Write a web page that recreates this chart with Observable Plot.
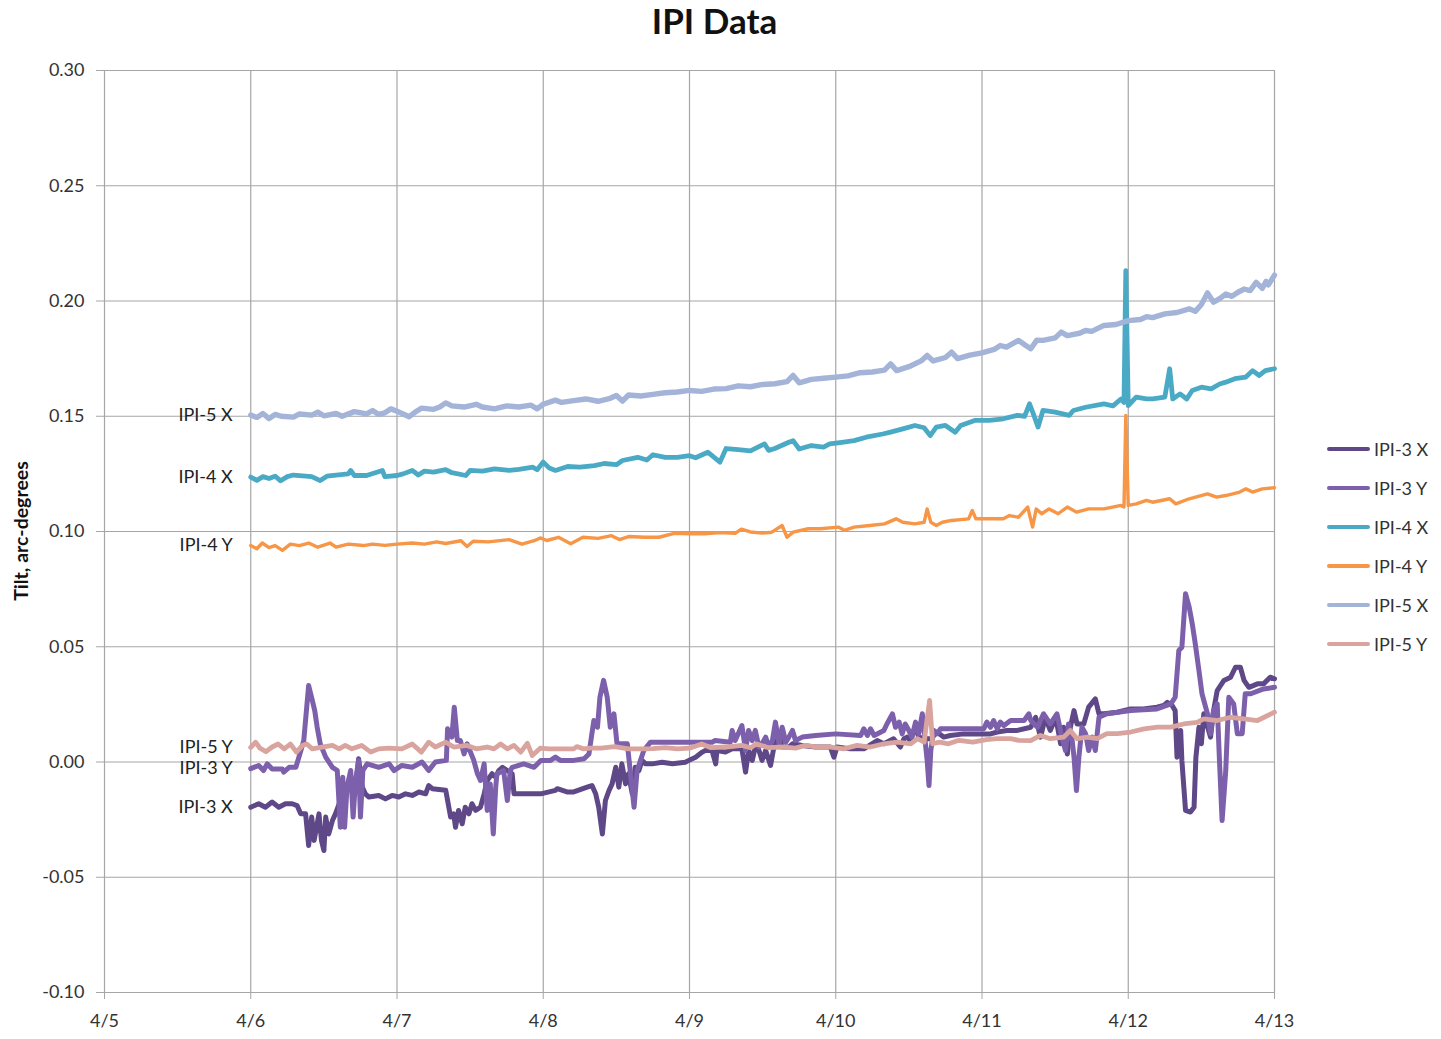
<!DOCTYPE html>
<html>
<head>
<meta charset="utf-8">
<script src="https://cdn.jsdelivr.net/npm/d3@7"></script>
<script src="https://cdn.jsdelivr.net/npm/@observablehq/plot@0.6"></script>
<style>
  html, body { margin: 0; padding: 0; background: #fff; }
  #wrap { position: relative; width: 1441px; height: 1039px; font-family: Lato, "Open Sans", sans-serif; color: #222; }
  #chart { position: absolute; left: 0; top: 0; }
  #title { position: absolute; left: 0; width: 1429px; top: -2px; text-align: center; font-weight: bold; font-size: 35px; line-height: 44px; color: #111; }
  #ylabel { position: absolute; left: 20px; top: 531px; transform: translate(-50%, -50%) rotate(-90deg); white-space: nowrap; font-weight: bold; font-size: 19.5px; color: #111; }
  #legend { position: absolute; left: 1327px; top: 430px; }
  .lg { position: absolute; left: 0; height: 38px; display: flex; align-items: center; white-space: nowrap; font-size: 18px; color: #333; }
  .lg span.sw { display: inline-block; width: 43px; border-radius: 2px; margin-right: 4px; }
</style>
</head>
<body>
<div id="wrap">
  <div id="chart"></div>
  <div id="title">IPI Data</div>
  <div id="ylabel">Tilt, arc-degrees</div>
  <div id="legend"></div>
</div>
<script>
// ---- data (hour offset from 4/6 00:00, tilt in arc-degrees) ----
const seriesNames = ["IPI-3 X", "IPI-3 Y", "IPI-4 X", "IPI-4 Y", "IPI-5 X", "IPI-5 Y"];
const seriesColors = ["#5e4888", "#7d60ab", "#4aaac5", "#f79646", "#a3b4d8", "#d9a49e"];
const dayLabels = ["4/5", "4/6", "4/7", "4/8", "4/9", "4/10", "4/11", "4/12", "4/13"];
const yTicks = [-0.10, -0.05, 0.00, 0.05, 0.10, 0.15, 0.20, 0.25, 0.30];

const ipi3x = [[0,-.0196],[1.3,-.0181],[2.4,-.0196],[3.5,-.0174],[4.6,-.0196],[5.7,-.0181],[6.8,-.0181],[7.6,-.0189],[8.2,-.0225],[9,-.0225],[9.5,-.0362],[10,-.0239],[10.4,-.034],[10.9,-.0268],[11.2,-.0225],[11.6,-.034],[12,-.0384],[12.3,-.0239],[12.8,-.0312],[13.4,-.0254],[13.9,-.0225],[14.7,-.0167],[15.5,-.0138],[16.1,-.008],[17.2,-.0123],[17.7,.0014],[18.3,-.0109],[18.8,-.0138],[19.4,-.0152],[21,-.0145],[22.1,-.016],[23.2,-.0145],[24.3,-.0152],[25.4,-.0138],[26.5,-.0145],[27.6,-.013],[28.7,-.0138],[29.2,-.0102],[29.8,-.0116],[32,-.0123],[32.2,-.0152],[32.8,-.0239],[33.3,-.0225],[33.6,-.0283],[34.1,-.021],[34.7,-.0268],[35.2,-.0196],[35.8,-.0225],[36.3,-.0181],[36.9,-.021],[37.7,-.0196],[38.3,-.0138],[38.8,-.008],[39.6,-.0051],[40.2,-.0066],[40.7,-.0037],[41.3,-.0023],[42.1,-.0037],[42.9,-.0051],[43.2,-.0138],[45.4,-.0138],[47.6,-.0138],[50,-.0123],[50.3,-.0116],[51.9,-.013],[53,-.013],[55.2,-.0109],[56,-.0102],[56.6,-.0138],[57.1,-.0196],[57.7,-.0312],[58.2,-.0167],[58.8,-.0123],[59.3,-.0095],[59.9,-.0023],[60.4,-.0109],[60.9,-.0008],[61.5,-.0095],[62,-.0051],[62.6,-.0138],[63.1,-.0023],[63.7,-.0037],[64.2,.0007],[64.8,-.0008],[65.9,-.0008],[67.5,-.0001],[69.2,-.0008],[71.3,-.0001],[71.9,.0007],[73,.0021],[74.1,.0043],[74.6,.005],[75.7,.005],[76.3,-.0008],[76.5,.005],[77.9,.0043],[79,.0057],[80.6,.0057],[81.2,-.0044],[81.7,.005],[82.3,.0007],[82.8,.0065],[83.4,.005],[83.9,.0007],[84.5,.005],[85.3,-.0015],[85.8,.0057],[86.4,.0093],[86.7,.0122],[87.2,.0065],[88.3,.0065],[88.9,.0079],[90.5,.0072],[92.7,.0065],[95.1,.0065],[95.7,.0021],[96.2,.0065],[98.4,.0057],[100.6,.0057],[102.8,.0093],[103.9,.0079],[105.5,.0101],[106.6,.0065],[107.2,.0101],[107.7,.0108],[108.3,.0093],[109.1,.0158],[109.6,.0108],[111,.0101],[111.6,.0101],[112.6,.013],[113.7,.0108],[114.8,.0115],[117,.0122],[119.2,.0122],[121.4,.0122],[122.5,.013],[124.1,.0137],[125.8,.0137],[128,.0151],[128.8,.0194],[129.6,.0108],[130.4,.0194],[131.2,.0137],[132.1,.0194],[132.9,.0079],[133.4,.0151],[134,.0035],[134.5,.0151],[135.1,.0223],[135.6,.0165],[136.7,.0165],[137.5,.0238],[138.6,.0274],[139.2,.0209],[140,.0209],[142.2,.0216],[144.4,.023],[146.5,.023],[148.7,.0238],[149.8,.0245],[150.4,.0259],[151.2,.0245],[151.7,.0223],[152,.0021],[152.6,.0137],[152.8,.0007],[153.4,-.021],[154.2,-.0217],[154.8,-.0196],[155.1,.0021],[155.6,.0151],[156,.0079],[156.4,.0209],[157.5,.0108],[158,.0223],[158.6,.031],[159.7,.0354],[160.8,.0368],[161.6,.0411],[162.4,.0411],[163,.0354],[163.8,.0324],[165.2,.0339],[166.2,.0339],[167.3,.0368],[168,.0361]];

const ipi3y = [[0,-.0029],[1.3,-.0015],[2.1,-.0037],[2.7,-.0008],[3.5,-.003],[5.2,-.003],[5.4,-.0044],[6.3,-.0023],[7.4,-.0023],[7.9,.0021],[8.7,.0093],[9.5,.0332],[10.1,.0267],[10.5,.0223],[10.9,.0151],[11.4,.0079],[12.3,.0021],[13.4,-.0023],[14.2,-.0037],[14.7,-.0283],[15.1,-.0066],[15.4,-.0283],[15.8,-.0109],[16.4,-.0037],[16.8,-.0239],[17.2,-.008],[17.7,.0007],[18,-.0239],[18.4,-.0037],[19.1,-.0008],[21,-.0023],[22.7,-.0008],[23.5,-.0037],[24.8,-.0015],[26.5,-.0023],[28.1,0],[29.2,-.0037],[30.3,0],[32.1,.0007],[32.3,.0144],[33,.0108],[33.4,.0238],[33.9,.0093],[34.4,.0093],[35,.0035],[35.5,.0079],[36.6,.0007],[37.2,-.0051],[37.7,-.008],[38.3,-.0008],[38.8,-.021],[39.3,-.0095],[39.8,-.0312],[40.2,-.0109],[40.4,-.0051],[41.5,-.0037],[42.1,-.0167],[42.6,-.0037],[42.9,-.0023],[44.8,-.0008],[46.5,-.0023],[47.6,.0007],[49.2,.0007],[50,.0021],[50.8,.0007],[53,.0007],[54.7,.0014],[55.5,.0035],[56.3,.018],[56.9,.0151],[57.3,.0281],[57.9,.0354],[58.5,.0281],[59,.0151],[59.6,.0209],[60.1,.0079],[60.7,.0079],[61.8,.0079],[62.9,-.0196],[63.4,-.0037],[64.5,.005],[65.6,.0086],[67,.0086],[70,.0086],[72,.0086],[75.7,.0086],[76.2,.0093],[78.7,.0086],[79,.0137],[79.5,.0093],[80.6,.0158],[81.2,.005],[81.7,.0137],[82.3,.0093],[82.8,.0137],[83.4,.0065],[83.9,.0079],[84.5,.0108],[85,.0065],[85.6,.0093],[86.1,.0173],[86.7,.0079],[87.2,.0151],[87.8,.0086],[88.3,.0108],[88.9,.0137],[89.4,.0093],[90.5,.0108],[92.7,.0115],[96,.0122],[100.1,.0115],[100.6,.0144],[101.2,.0115],[101.7,.0144],[102.3,.0115],[103.9,.0137],[104.4,.0165],[105.3,.0209],[105.8,.0151],[106.4,.0173],[106.9,.0122],[107.4,.0165],[108,.0137],[108.5,.0108],[109.1,.0173],[109.6,.0122],[110.2,.0209],[110.6,.0108],[111,.0007],[111.3,-.0102],[111.6,.005],[112.1,.0137],[112.6,.0122],[113.2,.0144],[120.3,.0144],[120.8,.0173],[121.4,.0151],[121.9,.018],[122.5,.0144],[123,.0173],[123.6,.0158],[124.7,.018],[126.9,.018],[127.7,.0209],[128,.018],[129.1,.0151],[130.1,.0209],[131.2,.0165],[132.3,.0209],[133.1,.0108],[133.7,.005],[134.2,.0165],[134.8,.0093],[135.1,.0021],[135.5,-.0124],[135.9,.0021],[136.4,.0151],[137,.0123],[137.5,.005],[138.1,.0108],[138.6,.005],[139.2,.0194],[140.5,.0209],[144.4,.0223],[148.7,.023],[151,.0252],[151.7,.0281],[152.3,.0484],[152.8,.0498],[153.4,.073],[154,.0672],[154.5,.06],[155,.0513],[155.6,.0397],[156.1,.0296],[157,.0209],[157.5,.0123],[158,.0223],[158.6,.0252],[158.9,.005],[159.4,-.0254],[160,-.0037],[160.5,.0281],[161.3,.0252],[161.9,.0123],[162.7,.0123],[163.2,.0296],[164.1,.0296],[166.2,.0317],[168,.0324]];

const ipi4x = [[0,.1236],[1,.1222],[2,.1238],[3,.1230],[4,.1240],[4.9,.1220],[6,.1238],[7,.1245],[9,.1240],[10,.1238],[11.4,.1221],[12.5,.1240],[14,.1245],[16,.1250],[16.4,.1265],[17,.1243],[19,.1243],[21.6,.1265],[22,.1238],[24,.1243],[25,.1250],[26.5,.1265],[27.5,.1245],[28.5,.1262],[30,.1258],[32,.1268],[33,.1255],[35.3,.1243],[36,.1265],[38,.1262],[40,.1272],[42.4,.1265],[44,.1270],[46.3,.1279],[47,.1268],[48,.1301],[49,.1275],[50,.1265],[52,.1282],[54,.1279],[56.4,.1286],[58,.1295],[60,.1290],[61,.1308],[63.5,.1322],[65,.1310],[66,.1333],[68,.1322],[70,.1322],[72,.1329],[73,.1320],[75,.1344],[77,.1301],[78,.1360],[80,.1355],[82,.1350],[84.3,.1380],[85,.1352],[86,.1360],[88.3,.1387],[89,.1394],[90,.1358],[92,.1373],[94,.1366],[95,.1380],[97,.1387],[99,.1394],[101,.1409],[103.7,.1423],[105,.1431],[107,.1445],[109,.1460],[110.5,.1450],[111.5,.1416],[112.5,.1453],[114,.1460],[115.6,.1431],[116.5,.1460],[118.8,.1482],[121.2,.1482],[123.5,.1489],[125.8,.1504],[127,.1500],[127.8,.1554],[128.5,.1505],[129.2,.1453],[130,.1525],[132,.1518],[134.3,.1504],[135,.1525],[137,.1539],[140,.1554],[141.5,.1545],[142.8,.1575],[143.3,.1560],[143.6,.2132],[144,.1546],[145.3,.1583],[147,.1575],[148,.1575],[150,.1583],[150.8,.1706],[151.3,.1575],[152.5,.1597],[153.6,.1575],[154.5,.1612],[156,.1626],[157.6,.1619],[159,.1640],[160,.1648],[161.5,.1663],[163.3,.1670],[164.4,.1698],[165.5,.1677],[166.5,.1698],[168,.1706]];

const ipi4y = [[0,.0939],[1,.0925],[1.9,.0950],[3,.0930],[4,.0939],[5.2,.0918],[6.5,.0945],[8,.0939],[9.5,.0950],[11,.0932],[13,.0950],[14,.0932],[16,.0945],[18.5,.0939],[20,.0945],[22,.0940],[24,.0945],[26.5,.0950],[28.5,.0945],[30.5,.0955],[32,.0948],[34.5,.0960],[35.5,.0935],[36.5,.0958],[39,.0955],[42.4,.0965],[44.5,.0945],[46.5,.0960],[47.5,.0972],[48.6,.0961],[50.5,.0975],[52.5,.0947],[54.5,.0975],[57,.0970],[59.2,.0982],[60.5,.0965],[62,.0978],[64.6,.0975],[67,.0975],[69.5,.0992],[72,.0990],[74.5,.0990],[77,.0995],[79.5,.0992],[80.5,.1010],[82,.0998],[84,.0993],[85.5,.0997],[87.2,.1026],[88,.0975],[89,.0997],[91.5,.1012],[93.5,.1012],[96.4,.1019],[97.4,.1005],[99,.1019],[101.6,.1026],[104,.1033],[105.9,.1055],[107,.1040],[109,.1033],[110.5,.1040],[111,.1098],[111.6,.1040],[112.5,.1026],[113.5,.1040],[115,.1048],[117.8,.1055],[118.4,.1091],[119,.1055],[121,.1055],[123.5,.1055],[124.5,.1069],[126,.1062],[127.5,.1106],[128.3,.1019],[128.9,.1098],[129.8,.1077],[131,.1098],[132.5,.1077],[134,.1106],[135.5,.1084],[137.5,.1098],[140,.1098],[142.8,.1113],[143.3,.1106],[143.6,.1503],[144,.1113],[145.3,.1120],[147,.1135],[148,.1127],[150.8,.1142],[151.8,.1120],[154,.1142],[157,.1163],[158.5,.1149],[160,.1156],[162.3,.1171],[163.3,.1185],[164.4,.1171],[166,.1185],[168,.1190]];

const ipi5x = [[0,.1505],[1,.1495],[2,.1512],[3,.1490],[4,.1508],[5,.1500],[7,.1496],[8,.1510],[10,.1505],[11,.1518],[12,.1502],[14,.1512],[15,.1500],[17,.1520],[19,.1510],[20,.1525],[21,.1508],[22,.1515],[23,.1532],[24,.1522],[25,.1510],[26,.1498],[27,.1518],[28,.1535],[30,.1530],[31,.1540],[32,.1558],[33,.1545],[35,.1540],[37,.1552],[38,.1540],[40,.1532],[42,.1545],[44,.1540],[46,.1548],[47,.1532],[48,.1552],[50,.1570],[51,.1560],[53,.1568],[55,.1575],[57,.1565],[59,.1578],[60,.1590],[61,.1566],[62,.1592],[64,.1588],[66,.1595],[68,.1602],[70,.1605],[72,.1612],[74,.1608],[76,.1618],[78,.1620],[80,.1632],[82,.1628],[84,.1638],[86,.1641],[88,.1650],[89,.1677],[90,.1645],[92,.1660],[94,.1665],[96,.1670],[98,.1675],[100,.1689],[102,.1692],[104,.1700],[105,.1727],[106,.1698],[108,.1715],[110,.1740],[111,.1764],[112,.1740],[114,.1755],[115,.1778],[116,.1750],[118,.1765],[120,.1775],[122,.1790],[123,.1807],[124,.1800],[126,.1829],[127,.1810],[128,.1793],[129,.1830],[130,.1829],[132,.1840],[133,.1865],[134,.1850],[136,.1860],[137,.1872],[138,.1868],[140,.1894],[142,.1898],[144,.1915],[146,.1920],[147,.1932],[148,.1928],[150,.1944],[152,.1950],[154,.1966],[155,.1955],[156,.1985],[157,.2035],[158,.1995],[159,.2010],[160,.2030],[161,.2020],[162,.2038],[163,.2052],[164,.2045],[165,.2081],[166,.2055],[166.6,.2085],[167,.2070],[168,.2112]];

const ipi5y = [[0,.0063],[0.8,.0086],[1.5,.0060],[2.5,.0045],[3.5,.0065],[4.5,.0078],[5.5,.0057],[6.5,.0078],[7.5,.0043],[8.5,.0072],[9.2,.0078],[10.1,.0057],[11.7,.0065],[13.4,.0072],[14.5,.0057],[15.5,.0072],[16.6,.0057],[18.2,.0072],[19.7,.0043],[21,.0057],[22.6,.0060],[24.8,.0057],[26.5,.0078],[28,.0043],[29.2,.0086],[30.3,.0065],[32,.0086],[33.3,.0065],[35.5,.0072],[37,.0057],[38.8,.0065],[39.9,.0057],[41,.0078],[42.1,.0057],[43.2,.0072],[44.3,.0043],[45.4,.0081],[46.2,.0028],[47.5,.0060],[49,.0057],[51,.0057],[53,.0057],[53.5,.0067],[54.6,.0057],[55.7,.0060],[57.5,.0060],[59.7,.0067],[62,.0057],[64,.0057],[66,.0058],[68,.0062],[70,.0057],[72,.0060],[74,.0078],[75.5,.0062],[78,.0065],[80.6,.0072],[82,.0062],[83,.0078],[85,.0062],[87.5,.0065],[89.4,.0060],[91,.0072],[93,.0065],[95.2,.0065],[97.3,.0057],[99.5,.0072],[101.7,.0065],[103.9,.0079],[106.1,.0086],[108.3,.0079],[109.4,.0101],[110.5,.0086],[111.4,.0267],[111.9,.0079],[113,.0086],[114.5,.0079],[116.2,.0094],[118.5,.0086],[120.7,.0097],[122.5,.0101],[124.7,.0101],[126,.0094],[128,.0093],[129.6,.0115],[131.2,.0101],[133.4,.0108],[134.5,.0137],[135.6,.0101],[137.3,.0108],[138.9,.0101],[140.5,.0123],[142.2,.0123],[144.4,.0130],[146.6,.0144],[148.8,.0151],[151,.0151],[153.1,.0165],[155.3,.0172],[156.4,.0187],[158.6,.0180],[160.8,.0194],[163,.0187],[165.2,.0180],[166.3,.0194],[168,.0216]];

const seriesData = [ipi3x, ipi3y, ipi4x, ipi4y, ipi5x, ipi5y];
const seriesWidths = [5, 5, 4.8, 3.4, 5.4, 4.8];

// ---- build ----
const base = Date.UTC(2013, 3, 6);         // 4/6 00:00
const dayMs = 864e5;
const tickDates = dayLabels.map((_, i) => new Date(base + (i - 1) * dayMs));
const toDate = h => new Date(base + h * 3600e3);
const fmtDay = d => dayLabels[Math.round((d - tickDates[0]) / dayMs)];

const lineMarks = seriesData.map((pts, i) =>
  Plot.line(pts, {
    x: d => toDate(d[0]), y: d => d[1],
    stroke: seriesColors[i], strokeWidth: seriesWidths[i],
    strokeLinejoin: "round", strokeLinecap: "round"
  })
);

const startLabels = seriesNames.map((name, i) => ({ name, h: seriesData[i][0][0], v: seriesData[i][0][1] }));

const chart = Plot.plot({
  width: 1441,
  height: 1039,
  marginLeft: 104,
  marginRight: 167,
  marginTop: 70,
  marginBottom: 47,
  style: { fontFamily: "Lato, 'Open Sans', sans-serif", fontSize: "18px", color: "#333", background: "transparent", overflow: "visible" },
  x: { type: "utc", domain: [tickDates[0], tickDates[tickDates.length - 1]] },
  y: { domain: [-0.10, 0.30] },
  marks: [
    Plot.gridX(tickDates, { stroke: "#a6a6a6", strokeOpacity: 1, strokeWidth: 1.2 }),
    Plot.gridY(yTicks, { stroke: "#a6a6a6", strokeOpacity: 1, strokeWidth: 1.2 }),
    Plot.axisX(tickDates, { tickFormat: fmtDay, tickSize: 7, tickPadding: 15, label: null, stroke: "#a6a6a6", fill: "#333" }),
    Plot.axisY(yTicks, { tickFormat: d => d.toFixed(2), tickSize: 8, tickPadding: 12, label: null, stroke: "#a6a6a6", fill: "#333" }),
    ...lineMarks,
    Plot.text(startLabels, { x: d => toDate(d.h), y: d => d.v, text: "name", dx: -18, textAnchor: "end", fontSize: 18, fill: "#222" })
  ]
});
document.getElementById("chart").appendChild(chart);

// legend
const lg = document.getElementById("legend");
seriesNames.forEach((name, i) => {
  const row = document.createElement("div");
  row.className = "lg";
  row.style.top = (i * 39) + "px";
  const sw = document.createElement("span");
  sw.className = "sw";
  sw.style.height = Math.min(seriesWidths[i], 4.6) + "px";
  sw.style.background = seriesColors[i];
  row.appendChild(sw);
  row.appendChild(document.createTextNode(name));
  lg.appendChild(row);
});
</script>
</body>
</html>
